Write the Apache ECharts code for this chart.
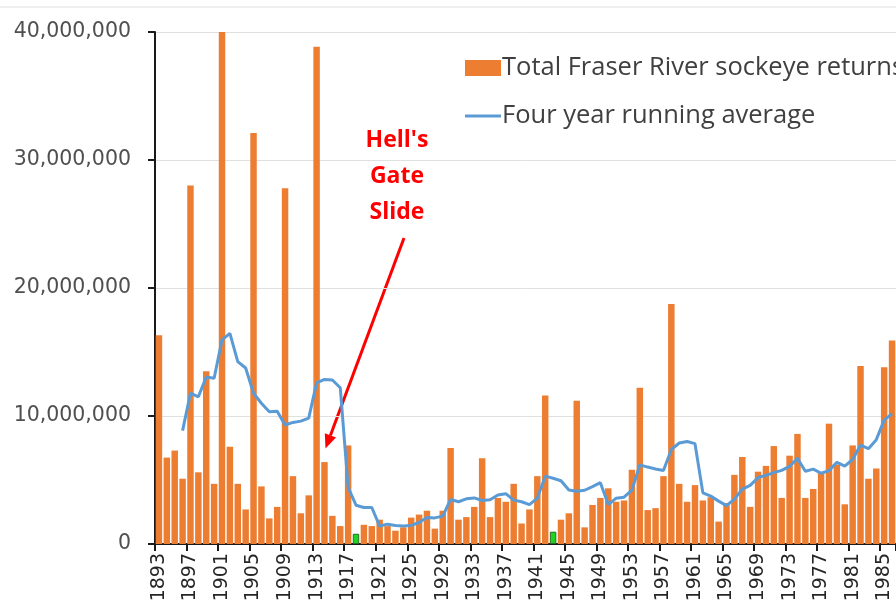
<!DOCTYPE html>
<html>
<head>
<meta charset="utf-8">
<title>Fraser River sockeye</title>
<script src="https://cdn.jsdelivr.net/npm/echarts@6/dist/echarts.min.js"></script>
<style>
html,body{margin:0;padding:0;background:#fff;}
#chart{width:896px;height:612px;}
</style>
</head>
<body>
<div id="chart"></div>
<script>
// years 1893..1986
var years = [];
for (var y = 1893; y <= 1986; y++) { years.push(String(y)); }

// total returns, millions of fish
var returns = [
    16.3, 6.75, 7.3, 5.1, 28.0, 5.6, 13.5, 4.7, 40.0, 7.6,
    4.7, 2.7, 32.1, 4.5, 2.0, 2.9, 27.8, 5.3, 2.4, 3.8,
    38.85, 6.4, 2.2, 1.4, 7.7, 0.8, 1.5, 1.4, 1.9, 1.4,
    1.04, 1.3, 2.06, 2.3, 2.6, 1.2, 2.6, 7.5, 1.9, 2.1,
    2.9, 6.7, 2.1, 3.6, 3.3, 4.7, 1.6, 2.7, 5.3, 11.6,
    0.96, 1.9, 2.4, 11.2, 1.3, 3.05, 3.6, 4.35, 3.3, 3.4,
    5.8, 12.2, 2.65, 2.8, 5.3, 18.75, 4.7, 3.3, 4.6, 3.4,
    3.65, 1.75, 3.2, 5.4, 6.8, 2.9, 5.65, 6.1, 7.65, 3.6,
    6.9, 8.6, 3.6, 4.3, 5.6, 9.4, 6.2, 3.1, 7.7, 13.9,
    5.1, 5.9, 13.8, 15.9
];

// four year running average, millions
var runningAvg = [
    null, null, null, 8.86, 11.79, 11.5, 13.05, 12.95, 15.95, 16.45,
    14.25, 13.75, 11.78, 11.0, 10.33, 10.38, 9.3, 9.5, 9.6, 9.83,
    12.59, 12.86, 12.81, 12.21, 4.43, 3.03, 2.85, 2.85, 1.4, 1.55,
    1.44, 1.41, 1.45, 1.68, 2.07, 2.04, 2.18, 3.48, 3.3, 3.53,
    3.6, 3.4, 3.45, 3.83, 3.93, 3.43, 3.3, 3.08, 3.58, 5.3,
    5.14, 4.94, 4.22, 4.12, 4.2, 4.49, 4.79, 3.08, 3.58, 3.66,
    4.21, 6.18, 6.01, 5.86, 5.74, 7.38, 7.89, 8.01, 7.84, 4.0,
    3.74, 3.35, 3.0, 3.5, 4.29, 4.58, 5.19, 5.36, 5.58, 5.75,
    6.06, 6.69, 5.68, 5.85, 5.53, 5.73, 6.38, 6.08, 6.6, 7.73,
    7.45, 8.15, 9.68, 10.18
];

// years drawn in green
var greenYears = ['1918', '1943'];

var yTicks = [0, 10, 20, 30, 40];

var barData = [];
for (var i = 0; i < returns.length; i++) {
    if (greenYears.indexOf(years[i]) >= 0) {
        barData.push({
            value: returns[i],
            itemStyle: {color: '#1fd41f', borderColor: '#2d6b2d', borderWidth: 1}
        });
    } else {
        barData.push(returns[i]);
    }
}

var myChart = echarts.init(document.getElementById('chart'));

var option = {
    animation: false,
    grid: {left: 155, top: 32, bottom: 68, right: 0, containLabel: false},
    legend: {
        orient: 'vertical',
        left: 465,
        top: 54,
        padding: 0,
        itemWidth: 36,
        itemHeight: 16,
        itemGap: 20,
        textStyle: {
            fontFamily: 'Open Sans',
            fontSize: 25.5,
            lineHeight: 28,
            color: '#404040',
            padding: [0, 0, 0, -4]
        },
        data: [
            {name: 'Total Fraser River sockeye returns', icon: 'rect'},
            {name: 'Four year running average', icon: 'path://M0,0H36V3H0Z'}
        ]
    },
    xAxis: {
        type: 'category',
        data: years,
        boundaryGap: true,
        axisLine: {lineStyle: {color: '#1a1a1a', width: 2}},
        axisTick: {show: true, interval: 3, length: 7, lineStyle: {color: '#1a1a1a', width: 2}},
        axisLabel: {
            interval: 3,
            rotate: 90,
            margin: 9,
            fontFamily: 'DejaVu Sans',
            fontSize: 19,
            color: '#262626'
        },
        splitLine: {show: false}
    },
    yAxis: {
        type: 'value',
        min: yTicks[0],
        max: yTicks[yTicks.length - 1],
        interval: 10,
        axisLine: {show: true, lineStyle: {color: '#1a1a1a', width: 2}},
        axisTick: {show: true, length: 7, lineStyle: {color: '#1a1a1a', width: 2}},
        axisLabel: {
            margin: 24,
            fontFamily: 'DejaVu Sans',
            fontSize: 20.5,
            color: '#505050',
            formatter: function (v) {
                return echarts.format.addCommas(v * 1000000);
            }
        },
        splitLine: {lineStyle: {color: '#e0e0e0', width: 1}}
    },
    series: [{
        name: 'Total Fraser River sockeye returns',
        type: 'bar',
        data: barData,
        barCategoryGap: '18%',
        itemStyle: {color: '#ED7D31'}
    }, {
        name: 'Four year running average',
        type: 'line',
        data: runningAvg,
        symbol: 'none',
        connectNulls: false,
        lineStyle: {color: '#5B9BD5', width: 3},
        itemStyle: {color: '#5B9BD5'},
        z: 3
    }],
    graphic: [{
        type: 'line',
        shape: {x1: 0, y1: 7, x2: 896, y2: 7},
        style: {stroke: '#e0e0e0', lineWidth: 1}
    }, {
        type: 'text',
        x: 397,
        y: 122,
        style: {
            text: "Hell's\nGate\nSlide",
            fill: '#ff0000',
            font: 'bold 23px "Open Sans"',
            align: 'center',
            verticalAlign: 'top',
            lineHeight: 36
        }
    }, {
        type: 'line',
        shape: {x1: 404, y1: 238, x2: 330.4, y2: 435.4},
        style: {stroke: '#ff0000', lineWidth: 3}
    }, {
        type: 'polygon',
        shape: {points: [[325.5, 448.5], [336.0, 437.5], [324.8, 433.3]]},
        style: {fill: '#ff0000'}
    }]
};

myChart.setOption(option);
window.onresize = myChart.resize;
</script>
</body>
</html>
